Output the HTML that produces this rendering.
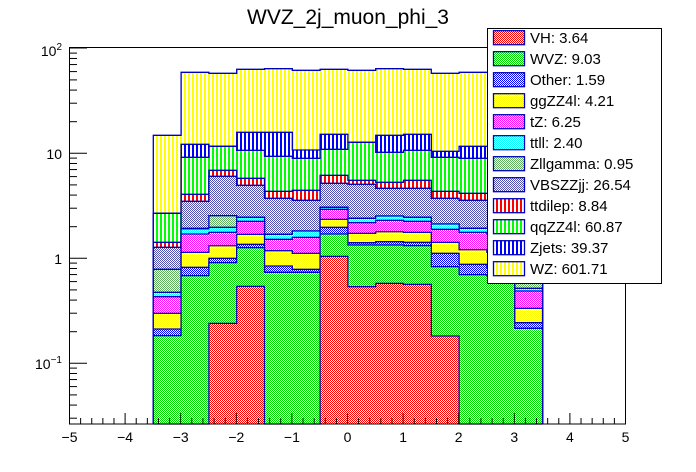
<!DOCTYPE html>
<html><head><meta charset="utf-8"><style>
html,body{margin:0;padding:0;background:#fff;}
svg{display:block;font-family:"Liberation Sans",Arial,sans-serif;}
</style></head><body>
<svg id="s" width="696" height="472" xmlns="http://www.w3.org/2000/svg"></svg>
<script>
const s=document.getElementById('s');
let h='<defs>';
const chk={VH:'#ff0000',WVZ:'#00e000',OT:'#0000ff',GG:'#ffff00',TZ:'#ff00ff',TT:'#00ffff',ZL:'#60b060',VB:'#5050b0'};
for(const k in chk)h+=`<pattern id="c${k}" width="2" height="2" patternUnits="userSpaceOnUse"><rect width="2" height="2" fill="#fff"/><rect width="1" height="1" fill="${chk[k]}"/><rect x="1" y="1" width="1" height="1" fill="${chk[k]}"/></pattern>`;
const str={TD:'#ff0000',QQ:'#00ff00',ZJ:'#0000ff',WZ:'#ffff00'};
for(const k in str)h+=`<pattern id="p${k}" x="0" y="0" width="4" height="4" patternUnits="userSpaceOnUse"><rect width="4" height="4" fill="#fff"/><rect x="0" y="0" width="2" height="4" fill="${str[k]}"/></pattern>`;
h+='</defs>';
h+='<rect x="0" y="0" width="696" height="472" fill="#fff"/>';
const X0=153.3,BW=27.8,BOT=424;
const L=[
 ['url(#pWZ)',[135.3,72.3,73.3,69.3,68.7,70.3,69.3,70.3,68.7,69.3,73.3,72.3,72.3,135.3]],
 ['url(#pZJ)',[213.3,144.3,146.3,132.3,132.3,150,134.3,142.3,135.3,134.3,151.3,146.3,146.3,213.3]],
 ['url(#pQQ)',[213.3,157.3,146.3,150.3,156.3,158.3,149.3,142.3,152.3,150.3,157.3,158.3,158.3,213.3]],
 ['url(#pTD)',[242.3,194.3,170.3,178.3,191.3,190.3,175.3,180.3,182.3,180.3,191.3,193.3,193.3,242.3]],
 ['url(#cVB)',[247.3,201.3,176.3,185.3,198.3,200.3,183.3,184.3,188.3,188.3,198.3,200.3,200.3,247.3]]
];
const B=[[269.3,292.3,296.7,313.3,329,335.7,424],[228.3,228.8,234,252.3,267.3,275.7,424],[215.7,227.3,232.3,245.7,258.3,262.7,323.3],[217.3,217.3,221.3,234.3,244.3,247.7,286.3],[234.3,234.3,239.3,250.7,266,272.3,424],[231,231,237.3,253.3,269.3,272.3,424],[207.3,207.3,209.3,219.3,227.3,234,256.3],[218.3,218.3,222.7,233.3,242.7,245,286.7],[216,216,220.3,231.7,241.7,245,283.3],[217.3,217.3,221.3,232.3,242.3,245.7,284.3],[224,224,229.3,242.3,253.3,266.7,336],[228.3,228.3,232.3,249.7,264.3,274.7,424],[228.3,228.3,234,252.3,267.3,275.7,424],[269.3,288.3,291,308.3,322.7,328.3,424]];
const bc=['url(#cZL)','url(#cTT)','url(#cTZ)','url(#cGG)','url(#cOT)','url(#cWVZ)','url(#cVH)'];
for(let k=0;k<7;k++)L.push([bc[k],B.map(r=>r[k])]);
for(const [c,t] of L){
  let d='M'+X0+' '+BOT;
  for(let i=0;i<14;i++){const x=X0+i*BW;
    if(t[i]<BOT-0.5)h+=`<rect x="${x}" y="${t[i]}" width="${BW+0.3}" height="${BOT-t[i]}" fill="${c}"/>`;
    d+=` L${x} ${Math.min(t[i],BOT)} L${x+BW} ${Math.min(t[i],BOT)}`;}
  d+=` L${X0+14*BW} ${BOT}`;
  h+=`<path d="${d}" fill="none" stroke="#0000c0" stroke-width="1.3"/>`;
}
h+='<rect x="69.5" y="47.5" width="556" height="376.5" fill="none" stroke="#000" stroke-width="1"/>';
for(let v=-5;v<=5;v+=0.2){const x=69.5+(v+5)*55.6;const maj=Math.abs(v-Math.round(v))<0.01;
 h+=`<line x1="${x}" y1="424" x2="${x}" y2="${maj?413:418}" stroke="#000"/>`;}
for(let v=-5;v<=5;v++){const x=69.5+(v+5)*55.6;
 h+=`<text x="${x}" y="442" font-size="14" text-anchor="middle">${v<0?'\u2212'+(-v):v}</text>`;}
const yOf=v=>258.3-Math.log10(v)*105;
for(let e=-2;e<=1;e++)for(let m=1;m<=9;m++){const v=m*Math.pow(10,e);const y=yOf(v);
 if(y>424||y<47)continue;h+=`<line x1="69.5" y1="${y}" x2="${m==1?87:77}" y2="${y}" stroke="#000"/>`;}
h+=`<line x1="69.5" y1="48" x2="87" y2="48" stroke="#000"/>`;
h+='<text x="62" y="56" font-size="14" text-anchor="end">10<tspan font-size="10" dy="-6">2</tspan></text>';
h+='<text x="62" y="159" font-size="14" text-anchor="end">10</text>';
h+='<text x="62" y="264" font-size="14" text-anchor="end">1</text>';
h+='<text x="62" y="369" font-size="14" text-anchor="end">10<tspan font-size="10" dy="-6">\u22121</tspan></text>';
h+='<text x="348" y="24" font-size="21" text-anchor="middle">WVZ_2j_muon_phi_3</text>';
h+='<rect x="487.5" y="28.5" width="174" height="255" fill="#fff" stroke="#000"/>';
const leg=[['VH: 3.64','url(#cVH)'],['WVZ: 9.03','url(#cWVZ)'],['Other: 1.59','url(#cOT)'],['ggZZ4l: 4.21','url(#cGG)'],['tZ: 6.25','url(#cTZ)'],['ttll: 2.40','url(#cTT)'],['Zllgamma: 0.95','url(#cZL)'],['VBSZZjj: 26.54','url(#cVB)'],['ttdilep: 8.84','url(#pTD)'],['qqZZ4l: 60.87','url(#pQQ)'],['Zjets: 39.37','url(#pZJ)'],['WZ: 601.71','url(#pWZ)']];
leg.forEach((e,i)=>{const y=37.7+i*21;
 h+=`<rect x="493.5" y="${y-7}" width="31" height="14" fill="${e[1]}" stroke="#0000c0" stroke-width="1.3"/>`;
 h+=`<text x="530" y="${y+5.5}" font-size="15">${e[0]}</text>`;});
s.innerHTML=h;
</script>
</body></html>
